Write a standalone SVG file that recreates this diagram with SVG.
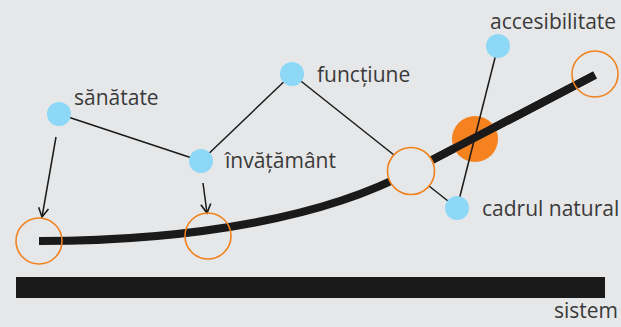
<svg xmlns="http://www.w3.org/2000/svg" width="621" height="327" viewBox="0 0 621 327">
<style>
.lbl{font-family:"Open Sans","Noto Sans",sans-serif;font-size:21px;fill:#3a3a3a}
.blue{fill:#8dd7f7}
.ring{fill:none;stroke:#f0821e;stroke-width:1.6}
.thin{stroke:#1a1a1a;stroke-width:1.5;fill:none}
</style>
<defs>
<marker id="arr" viewBox="0 0 12 12" refX="10" refY="6" markerWidth="12" markerHeight="12" markerUnits="userSpaceOnUse" orient="auto">
<path d="M1,1 L10,6 L1,11" fill="none" stroke="#1a1a1a" stroke-width="1.6"/>
</marker>
</defs>
<rect width="621" height="327" fill="#e6e7e8"/>
<rect id="sistem-bar" x="16" y="277" width="589" height="21" fill="#1a1a1a"/>
<g id="connectors">
<line class="thin" x1="59" y1="114" x2="201" y2="161"/>
<line class="thin" x1="201" y1="161" x2="292" y2="74"/>
<line class="thin" x1="292" y1="74" x2="394" y2="155"/>
<line class="thin" x1="429" y1="186" x2="448" y2="201"/>
<line class="thin" x1="56" y1="137" x2="42" y2="217" marker-end="url(#arr)"/>
<line class="thin" x1="203" y1="183" x2="207" y2="213" marker-end="url(#arr)"/>
</g>
<g id="curve">
<path d="M39,241 C200,241 330,215 411,171 L595,75" fill="none" stroke="#1a1a1a" stroke-width="8"/>
</g>
<g id="orange-filled"><circle cx="475" cy="139" r="23" fill="#f5821f"/></g>
<path d="M411,171 L595,75" fill="none" stroke="#1a1a1a" stroke-width="8"/>
<line class="thin" x1="498" y1="46" x2="457" y2="208"/>
<g id="ring-1"><circle class="ring" cx="39" cy="241" r="23"/></g>
<g id="ring-2"><circle class="ring" cx="208" cy="236" r="23"/></g>
<g id="ring-3"><circle cx="411" cy="171" r="23.5" fill="#e6e7e8" stroke="#f0821e" stroke-width="1.6"/></g>
<g id="ring-4"><circle class="ring" cx="595" cy="74" r="23"/></g>
<g id="sanatate"><circle class="blue" cx="59" cy="114" r="12"/><text class="lbl" x="74" y="105">sănătate</text></g>
<g id="invatamant"><circle class="blue" cx="201" cy="161" r="12"/><text class="lbl" x="225" y="168">învățământ</text></g>
<g id="functiune"><circle class="blue" cx="292" cy="74" r="12"/><text class="lbl" x="317" y="82">funcțiune</text></g>
<g id="accesibilitate"><circle class="blue" cx="498" cy="46" r="12"/><text class="lbl" x="490" y="29">accesibilitate</text></g>
<g id="cadrul-natural"><circle class="blue" cx="457" cy="208" r="12"/><text class="lbl" x="482" y="216">cadrul natural</text></g>
<text class="lbl" x="618" y="318" text-anchor="end">sistem</text>
</svg>
